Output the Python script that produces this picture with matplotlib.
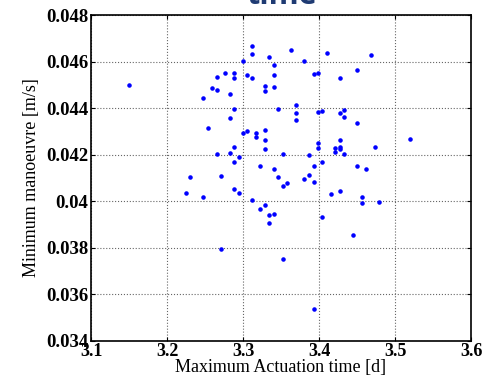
import matplotlib
matplotlib.use("Agg")
import matplotlib.pyplot as plt

# ── Data ───────────────────────────────────────────────────────────────────────
act_time = [
    3.1496, 3.2246, 3.2307, 3.2478, 3.2478, 3.2536, 3.2592, 3.2654, 3.2654, 3.2654,
    3.2707, 3.2707, 3.2767, 3.2825, 3.2825, 3.2825, 3.2884, 3.2884, 3.2884, 3.2884,
    3.2884, 3.2884, 3.2941, 3.2941, 3.3000, 3.3000, 3.3057, 3.3057, 3.3114, 3.3114,
    3.3114, 3.3114, 3.3174, 3.3174, 3.3228, 3.3228, 3.3287, 3.3287, 3.3287, 3.3287,
    3.3287, 3.3287, 3.3346, 3.3346, 3.3346, 3.3404, 3.3404, 3.3404, 3.3404, 3.3404,
    3.3463, 3.3463, 3.3522, 3.3522, 3.3522, 3.3579, 3.3638, 3.3693, 3.3693, 3.3693,
    3.3808, 3.3808, 3.3868, 3.3868, 3.3928, 3.3928, 3.3928, 3.3928, 3.3984, 3.3984,
    3.3984, 3.3984, 3.4043, 3.4043, 3.4043, 3.4101, 3.4158, 3.4214, 3.4214, 3.4270,
    3.4270, 3.4270, 3.4270, 3.4270, 3.4270, 3.4329, 3.4329, 3.4329, 3.4447, 3.4504,
    3.4504, 3.4504, 3.4562, 3.4562, 3.4621, 3.4680, 3.4739, 3.4793, 3.5197,
]
min_manoeuvre = [
    0.04500, 0.04034, 0.04102, 0.04442, 0.04019, 0.04313, 0.04486, 0.04534, 0.04478, 0.04201,
    0.03793, 0.04109, 0.04549, 0.04462, 0.04357, 0.04205, 0.04551, 0.04528, 0.04395, 0.04232,
    0.04168, 0.04053, 0.04188, 0.04035, 0.04602, 0.04291, 0.04541, 0.04301, 0.04667, 0.04632,
    0.04528, 0.04003, 0.04294, 0.04276, 0.04152, 0.03967, 0.04496, 0.04472, 0.04304, 0.04264,
    0.04223, 0.03985, 0.04620, 0.03939, 0.03904, 0.04584, 0.04541, 0.04492, 0.04136, 0.03945,
    0.04398, 0.04103, 0.04204, 0.04064, 0.03753, 0.04078, 0.04650, 0.04413, 0.04380, 0.04349,
    0.04604, 0.04095, 0.04198, 0.04112, 0.04548, 0.04149, 0.04084, 0.03535, 0.04552, 0.04382,
    0.04249, 0.04227, 0.04386, 0.04170, 0.03932, 0.04638, 0.04029, 0.04227, 0.04210, 0.04531,
    0.04378, 0.04261, 0.04231, 0.04223, 0.04044, 0.04392, 0.04362, 0.04203, 0.03853, 0.04562,
    0.04337, 0.04152, 0.04016, 0.03994, 0.04139, 0.04628, 0.04233, 0.03998, 0.04268,
]

x_ticks = [3.1, 3.2, 3.3, 3.4, 3.5, 3.6]
x_labels = ["3.1", "3.2", "3.3", "3.4", "3.5", "3.6"]
y_ticks = [0.034, 0.036, 0.038, 0.040, 0.042, 0.044, 0.046, 0.048]
y_labels = ["0.034", "0.036", "0.038", "0.04", "0.042", "0.044", "0.046", "0.048"]

# ── Figure ─────────────────────────────────────────────────────────────────────
fig = plt.figure(figsize=(4.96, 3.88), dpi=100)
ax = fig.add_axes([0.1835, 0.1219, 0.7661, 0.8394])

ax.plot(act_time, min_manoeuvre, ".", color="blue", markersize=4.5, linestyle="none")

ax.set_xlim(3.1, 3.6)
ax.set_ylim(0.034, 0.048)
ax.set_xticks(x_ticks)
ax.set_xticklabels(x_labels, fontfamily="Liberation Serif", fontsize=13, fontweight="bold")
ax.set_yticks(y_ticks)
ax.set_yticklabels(y_labels, fontfamily="Liberation Serif", fontsize=13.5, fontweight="bold")

ax.grid(True, linestyle=":", color="0.4", linewidth=0.8)
ax.tick_params(direction="in", top=True, right=True, length=3, width=0.8, pad=2)
for sp in ax.spines.values():
    sp.set_linewidth(1.2)

ax.set_xlabel("Maximum Actuation time [d]", fontfamily="Liberation Serif",
              fontsize=13, labelpad=-1)
ax.set_ylabel("Minimum manoeuvre [m/s]", fontfamily="Liberation Serif",
              fontsize=13, labelpad=4)

# title cut off by the top edge of the picture
fig.text(0.568, 1 - 4 / 388, "time", ha="center", va="baseline",
         fontsize=22, fontweight="bold", fontfamily="Open Sans", color="#1f3b73")

fig.savefig("out.png", dpi=100)
